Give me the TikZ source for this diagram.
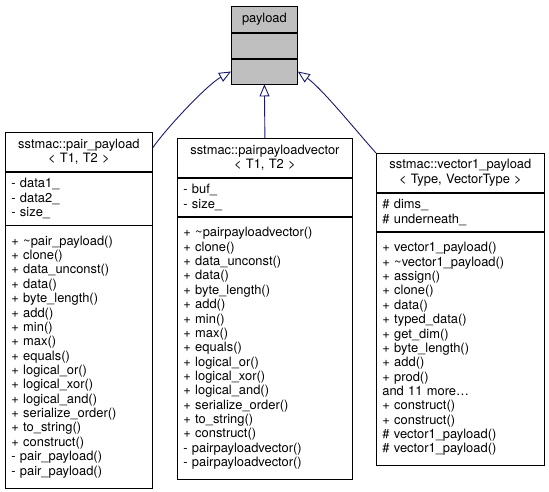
\documentclass[tikz,border=0pt]{standalone}
\usepackage{fontspec}
\setmainfont{TeX Gyre Heros}
\usetikzlibrary{positioning,arrows.meta}
\newcommand{\umlfont}{\fontsize{12.9}{14.36}\selectfont}

\begin{document}
\begin{tikzpicture}[x=1pt,y=-1pt,
  cbox/.style={draw=black,fill=white,line width=0.8pt,inner xsep=6pt,inner ysep=0pt,font=\umlfont,anchor=north west},
  ctitle/.style={cbox,align=center},
  cbody/.style={cbox,align=left},
  isa/.style={draw=cedge,line width=0.9pt,-{Triangle[length=12pt,width=10pt,fill=white]}}]
\definecolor{cedge}{rgb}{0.098,0.098,0.439}
\definecolor{cbase}{rgb}{0.749,0.749,0.749}
\useasboundingbox (0,0) rectangle (549,492);
%
\node[ctitle,fill=cbase,text width=54pt,minimum height=26pt] (paytitle) at (231,6) {payload};
\node[cbody,fill=cbase,text width=54pt,minimum height=25pt,below=0pt of paytitle] (payattr) {};
\node[cbody,fill=cbase,text width=54pt,minimum height=25pt,below=0pt of payattr] (payops) {};
%
\node[ctitle,text width=135pt,minimum height=38.72pt] (pairtitle) at (5,132) {sstmac::pair\_payload\\< T1, T2 >};
\node[cbody,text width=135pt,minimum height=53.08pt,below=0pt of pairtitle] (pairattr) {- data1\_\\- data2\_\\- size\_};
\node[cbody,text width=135pt,minimum height=262.12pt,below=0pt of pairattr] (pairops) {+ \textasciitilde pair\_payload()\\+ clone()\\+ data\_unconst()\\+ data()\\+ byte\_length()\\+ add()\\+ min()\\+ max()\\+ equals()\\+ logical\_or()\\+ logical\_xor()\\+ logical\_and()\\+ serialize\_order()\\+ to\_string()\\+ construct()\\- pair\_payload()\\- pair\_payload()};
%
\node[ctitle,text width=163pt,minimum height=38.72pt] (pvtitle) at (177,138) {sstmac::pairpayloadvector\\< T1, T2 >};
\node[cbody,text width=163pt,minimum height=38.72pt,below=0pt of pvtitle] (pvattr) {- buf\_\\- size\_};
\node[cbody,text width=163pt,minimum height=262.12pt,below=0pt of pvattr] (pvops) {+ \textasciitilde pairpayloadvector()\\+ clone()\\+ data\_unconst()\\+ data()\\+ byte\_length()\\+ add()\\+ min()\\+ max()\\+ equals()\\+ logical\_or()\\+ logical\_xor()\\+ logical\_and()\\+ serialize\_order()\\+ to\_string()\\+ construct()\\- pairpayloadvector()\\- pairpayloadvector()};
%
\node[ctitle,text width=156pt,minimum height=38.72pt] (vectitle) at (376,153) {sstmac::vector1\_payload\\< Type, VectorType >};
\node[cbody,text width=156pt,minimum height=38.72pt,below=0pt of vectitle] (vecattr) {\# dims\_\\\# underneath\_};
\node[cbody,text width=156pt,minimum height=233.4pt,below=0pt of vecattr] (vecops) {+ vector1\_payload()\\+ \textasciitilde vector1\_payload()\\+ assign()\\+ clone()\\+ data()\\+ typed\_data()\\+ get\_dim()\\+ byte\_length()\\+ add()\\+ prod()\\and 11 more\ldots\\+ construct()\\+ construct()\\\# vector1\_payload()\\\# vector1\_payload()};
%
\draw[isa] ([yshift=4pt]pairtitle.east) .. controls (164,131) and (206,85.5) .. (payops.west);
\draw[isa] (pvtitle.north) -- (payops.south);
\draw[isa] (vectitle.north west) .. controls (358,133) and (322,88.5) .. (payops.east);
%
\end{tikzpicture}
\end{document}
